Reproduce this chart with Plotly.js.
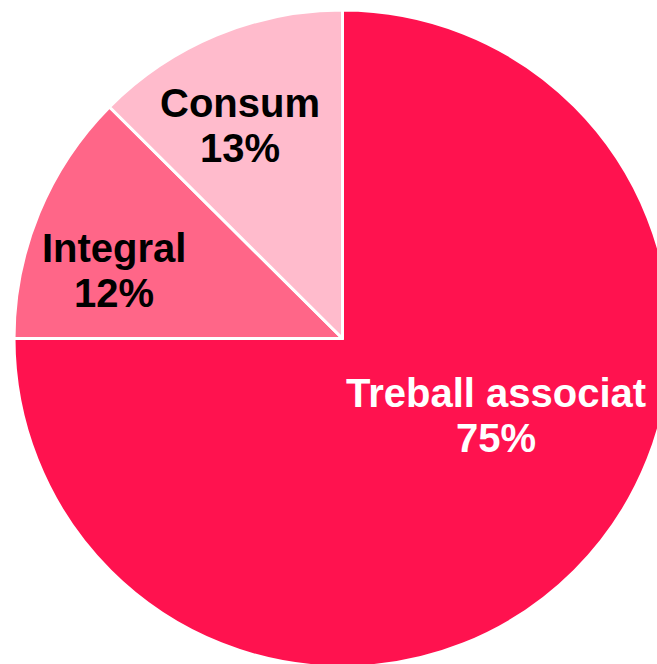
<!DOCTYPE html>
<html>
<head>
<meta charset="utf-8">
<script src="https://cdn.plot.ly/plotly-3.0.1.min.js"></script>
<style>
html, body { margin: 0; padding: 0; overflow: hidden; background: #ffffff; width: 657px; height: 664px; }
#chart { width: 700px; height: 700px; }
</style>
</head>
<body>
<div id="chart"></div>
<script>
// Data
const categories = ["Treball associat", "Integral", "Consum"];
const shares = [75, 12.45, 12.55];

// Styles
const sliceColors = ["#FF124F", "#FF6688", "#FFBBCC"];
const labelColors = ["#FFFFFF", "#000000", "#000000"];
// Label layout (pixels): centre x, middle y of first line; line gap
const labelX = [496, 114, 240];
const labelY = [393, 248, 103];
const lineGap = 45;

const W = 700, H = 700;

const annotations = [];
categories.forEach((c, i) => {
  const total = shares.reduce((a, b) => a + b, 0);
  const lines = [c, Math.round(shares[i] / total * 100) + "%"];
  lines.forEach((t, k) => {
    annotations.push({
      text: t,
      x: labelX[i] / W,
      y: 1 - (labelY[i] + k * lineGap) / H,
      xref: "paper", yref: "paper",
      xanchor: "center", yanchor: "middle",
      showarrow: false,
      font: { family: "Liberation Sans, Arial, sans-serif", size: 40, color: labelColors[i], weight: "bold" }
    });
  });
});

const trace = {
  type: "pie",
  labels: categories,
  values: shares,
  sort: false,
  direction: "clockwise",
  rotation: 0,
  textinfo: "none",
  hoverinfo: "label+percent",
  marker: { colors: sliceColors, line: { color: "#FFFFFF", width: 3 } },
  domain: { x: [14 / W, 671 / W], y: [1 - 667 / H, 1 - 10 / H] }
};

const layout = {
  width: W, height: H,
  margin: { l: 0, r: 0, t: 0, b: 0 },
  showlegend: false,
  paper_bgcolor: "#FFFFFF",
  annotations: annotations
};

Plotly.newPlot("chart", [trace], layout, { displayModeBar: false, staticPlot: true });
</script>
</body>
</html>
